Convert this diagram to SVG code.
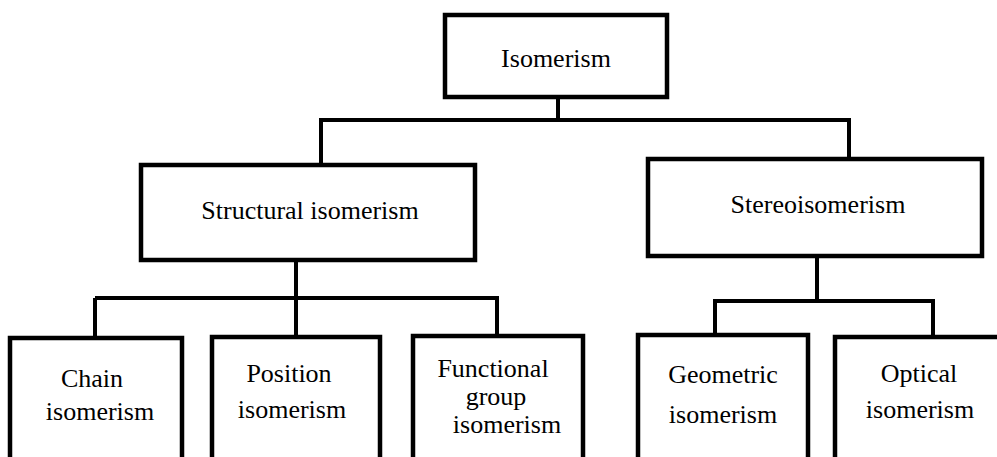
<svg xmlns="http://www.w3.org/2000/svg" width="997" height="457" viewBox="0 0 997 457">
<style>
.box{fill:#fff;stroke:#000;stroke-width:4.5}
.ln{fill:none;stroke:#000;stroke-width:4}
</style>
<rect width="997" height="457" fill="#fff"/>
<g id="connectors">
<path class="ln" d="M558 97V120M319 120H851M321 120V165M849 120V159"/>
<path class="ln" d="M296 260V298M95 298H499M95 298V338M296 298V337M497 298V336"/>
<path class="ln" d="M817 256V301M713 301H935M715 301V335M933 301V337"/>
</g>
<g font-family="Liberation Serif, Times New Roman, serif" font-size="26" text-anchor="middle" fill="#000">
<g id="isomerism"><rect class="box" x="445" y="15" width="222" height="82"/><text x="556" y="67">Isomerism</text></g>
<g id="structural"><rect class="box" x="141" y="165" width="334" height="95"/><text x="310" y="219">Structural isomerism</text></g>
<g id="stereo"><rect class="box" x="648" y="159" width="334" height="97"/><text x="818" y="213">Stereoisomerism</text></g>
<g id="chain"><rect class="box" x="10" y="338" width="172" height="140"/><text x="92" y="387">Chain</text><text x="100" y="420">isomerism</text></g>
<g id="position"><rect class="box" x="212" y="337" width="168" height="140"/><text x="289" y="382">Position</text><text x="292" y="418">isomerism</text></g>
<g id="functional"><rect class="box" x="413" y="336" width="170" height="140"/><text x="493" y="377">Functional</text><text x="496" y="405">group</text><text x="507" y="433">isomerism</text></g>
<g id="geometric"><rect class="box" x="638" y="335" width="170" height="140"/><text x="723" y="383">Geometric</text><text x="723" y="423">isomerism</text></g>
<g id="optical"><rect class="box" x="835" y="337" width="175" height="140"/><text x="919" y="382">Optical</text><text x="920" y="418">isomerism</text></g>
</g>
</svg>
